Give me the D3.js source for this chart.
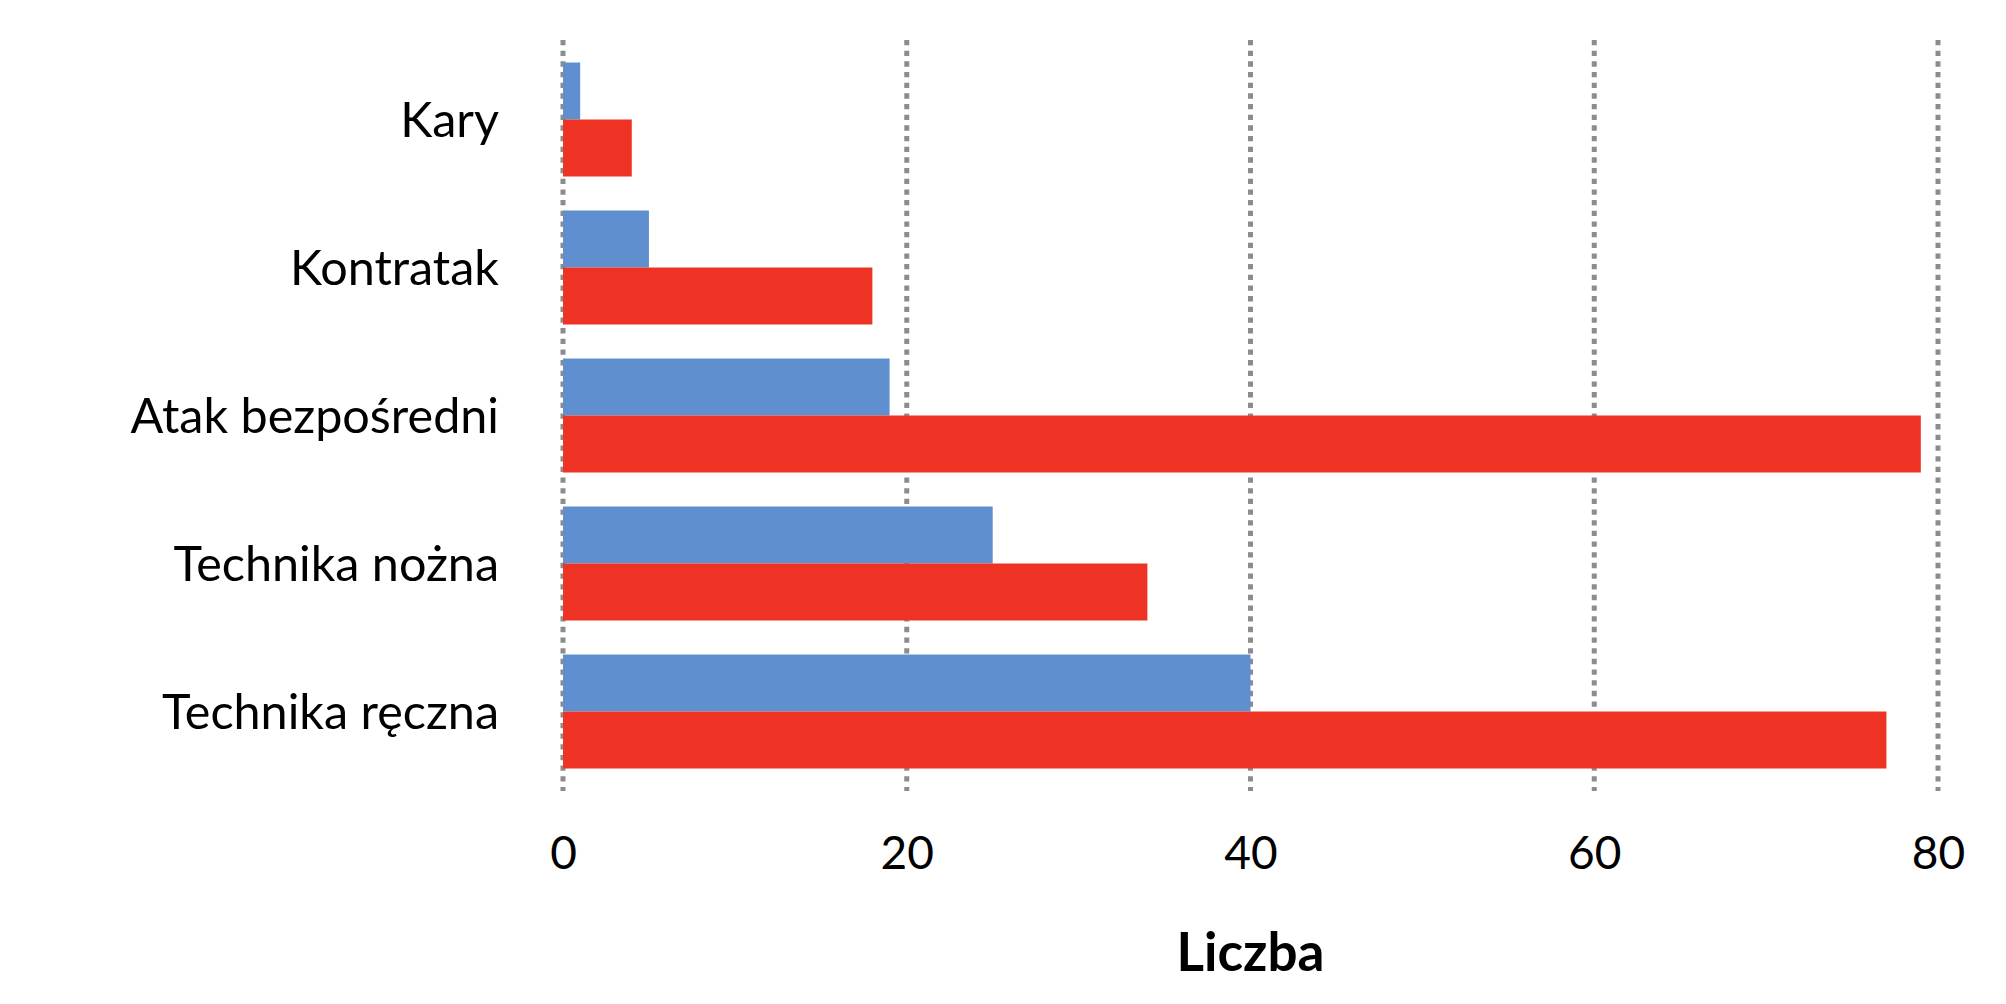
<!DOCTYPE html>
<html>
<head>
<meta charset="utf-8">
<script src="https://cdn.jsdelivr.net/npm/d3@7"></script>
<style>
  html, body { margin: 0; padding: 0; background: #ffffff; }
  svg { display: block; }
</style>
</head>
<body>
<svg id="chart" width="2006" height="1004"></svg>
<script>
// ---- data ----
const categories = ["Kary", "Kontratak", "Atak bezpośredni", "Technika nożna", "Technika ręczna"];
const seriesNames = ["Seria 1", "Seria 2"];
const series1 = [1, 5, 19, 25, 40];
const series2 = [4, 18, 79, 34, 77];
const xTicks = [0, 20, 40, 60, 80];
const axisTitle = "Liczba";
const seriesColors = ["#5F8FCF", "#EE3224"];

// ---- layout ----
const svg = d3.select("#chart");
const W = 2006, H = 1004;
const plot = { left: 563, right: 1938, top: 40, bottom: 791 };
const fontFamily = "Lato, 'Open Sans', 'Noto Sans', sans-serif";

const x = d3.scaleLinear().domain([0, 80]).range([plot.left, plot.right]);
const y = d3.scaleBand().domain(categories).range([plot.top, plot.bottom])
  .paddingInner(34 / 148).paddingOuter(0.152);
const ySub = d3.scaleBand().domain(seriesNames).range([0, y.bandwidth()]).padding(0);

svg.append("rect").attr("width", W).attr("height", H).attr("fill", "#ffffff");

// gridlines (dotted)
const grid = svg.append("g").attr("class", "grid");
grid.selectAll("line").data(xTicks).join("line")
  .attr("x1", d => x(d)).attr("x2", d => x(d))
  .attr("y1", plot.top).attr("y2", plot.bottom)
  .attr("stroke", "#8C8C8C")
  .attr("stroke-width", 5)
  .attr("stroke-dasharray", "5.3,5.37");

// bars
const rows = categories.map((c, i) => ({ cat: c, vals: [series1[i], series2[i]] }));
const g = svg.append("g").attr("class", "bars");
const groups = g.selectAll("g").data(rows).join("g")
  .attr("transform", d => `translate(0,${y(d.cat)})`);
groups.selectAll("rect")
  .data(d => d.vals.map((v, j) => ({ name: seriesNames[j], v, j })))
  .join("rect")
  .attr("x", x(0))
  .attr("y", d => ySub(d.name))
  .attr("width", d => x(d.v) - x(0))
  .attr("height", ySub.bandwidth())
  .attr("fill", d => seriesColors[d.j]);

// category axis (labels only)
const yAxis = d3.axisLeft(y).tickSize(0).tickPadding(0);
const yAx = svg.append("g").attr("transform", `translate(499,0)`).call(yAxis);
yAx.select(".domain").remove();
yAx.selectAll("text")
  .attr("font-family", fontFamily)
  .attr("font-size", 48.5)
  .attr("fill", "#000")
  .attr("dy", "0.36em");

// value axis (labels only)
const xAxis = d3.axisBottom(x).tickValues(xTicks).tickSize(0).tickPadding(0);
const xAx = svg.append("g").attr("transform", `translate(0,836)`).call(xAxis);
xAx.select(".domain").remove();
xAx.selectAll("text")
  .attr("font-family", fontFamily)
  .attr("font-size", 46)
  .attr("fill", "#000")
  .attr("dy", "0.72em");

// axis title
svg.append("text")
  .attr("x", (plot.left + plot.right) / 2)
  .attr("y", 971)
  .attr("text-anchor", "middle")
  .attr("font-family", fontFamily)
  .attr("font-weight", "bold")
  .attr("font-size", 53)
  .attr("fill", "#000")
  .text(axisTitle);
</script>
</body>
</html>
